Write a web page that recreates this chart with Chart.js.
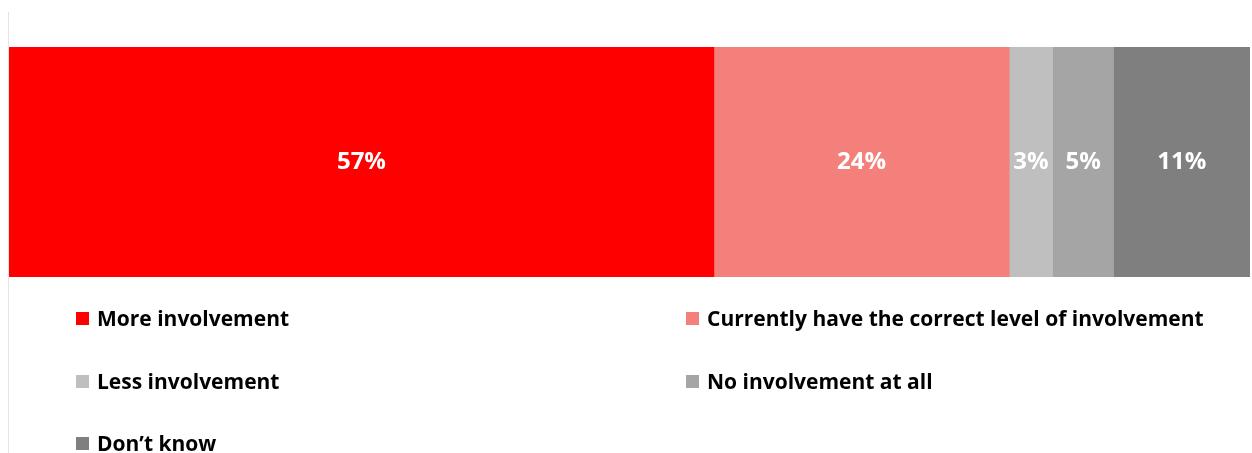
<!DOCTYPE html>
<html>
<head>
<meta charset="utf-8">
<script src="https://cdn.jsdelivr.net/npm/chart.js@4/dist/chart.umd.min.js"></script>
<style>
  html, body { margin: 0; padding: 0; background: #fff; }
  #wrap { position: relative; width: 1252px; height: 453px; overflow: hidden; }
  #axisLine { position: absolute; left: 8px; top: 12px; width: 1px; height: 441px; background: #e3e3e3; }
  .leg { position: absolute; font-family: "Open Sans", Lato, sans-serif; font-weight: bold; font-size: 21px; color: #000; white-space: nowrap; line-height: 24px; }
  .leg span.sw { display: inline-block; width: 13px; height: 13px; margin-right: 8px; vertical-align: 1px; }
</style>
</head>
<body>
<div id="wrap">
  <canvas id="chart" width="1252" height="453"></canvas>
  <div id="axisLine"></div>
  <div id="legend"></div>
</div>
<script>
// data
const categories = ['Involvement'];
const seriesNames = ['More involvement', 'Currently have the correct level of involvement', 'Less involvement', 'No involvement at all', 'Don\u2019t know'];
const seriesValues = [56.8, 23.8, 3.5, 4.9, 11.0];
const valueLabels = ['57%', '24%', '3%', '5%', '11%'];
const seriesColors = ['#FF0000', '#F4807B', '#BFBFBF', '#A5A5A5', '#7F7F7F'];

const legendEl = document.querySelector('#legend');

var datasets = [];
for (var i = 0; i < seriesNames.length; i++) {
  datasets.push({
    label: seriesNames[i],
    data: [seriesValues[i]],
    backgroundColor: seriesColors[i],
    borderWidth: 0,
    barPercentage: 1,
    categoryPercentage: 1
  });
}

// draws the percent text in the middle of each segment
const barLabels = {
  id: 'barLabels',
  afterDatasetsDraw(chart) {
    const ctx = chart.ctx;
    ctx.save();
    ctx.fillStyle = '#fff';
    ctx.font = 'bold 24px "Open Sans", Lato, sans-serif';
    ctx.textAlign = 'center';
    ctx.textBaseline = 'middle';
    chart.data.datasets.forEach(function(ds, i) {
      var bar = chart.getDatasetMeta(i).data[0];
      var x = (bar.x + bar.base) / 2;
      ctx.fillText(valueLabels[i], x, bar.y);
    });
    ctx.restore();
  }
};

new Chart(document.querySelector('#chart'), {
  type: 'bar',
  data: { labels: categories, datasets: datasets },
  options: {
    indexAxis: 'y',
    responsive: false,
    animation: false,
    layout: { padding: { left: 9, right: 2, top: 47, bottom: 176 } },
    plugins: {
      legend: { display: false },
      tooltip: { enabled: false }
    },
    scales: {
      x: { stacked: true, min: 0, max: 100, display: false },
      y: { stacked: true, display: false }
    }
  },
  plugins: [barLabels]
});

// legend in two columns, three rows
var colX = [76, 686];
var rowY = [306, 369, 431];
seriesNames.forEach(function(name, i) {
  var d = document.createElement('div');
  d.className = 'leg';
  d.style.left = colX[i % 2] + 'px';
  d.style.top = rowY[Math.floor(i / 2)] + 'px';
  d.innerHTML = '<span class="sw" style="background:' + seriesColors[i] + '"></span>' + name;
  legendEl.appendChild(d);
});
</script>
</body>
</html>
